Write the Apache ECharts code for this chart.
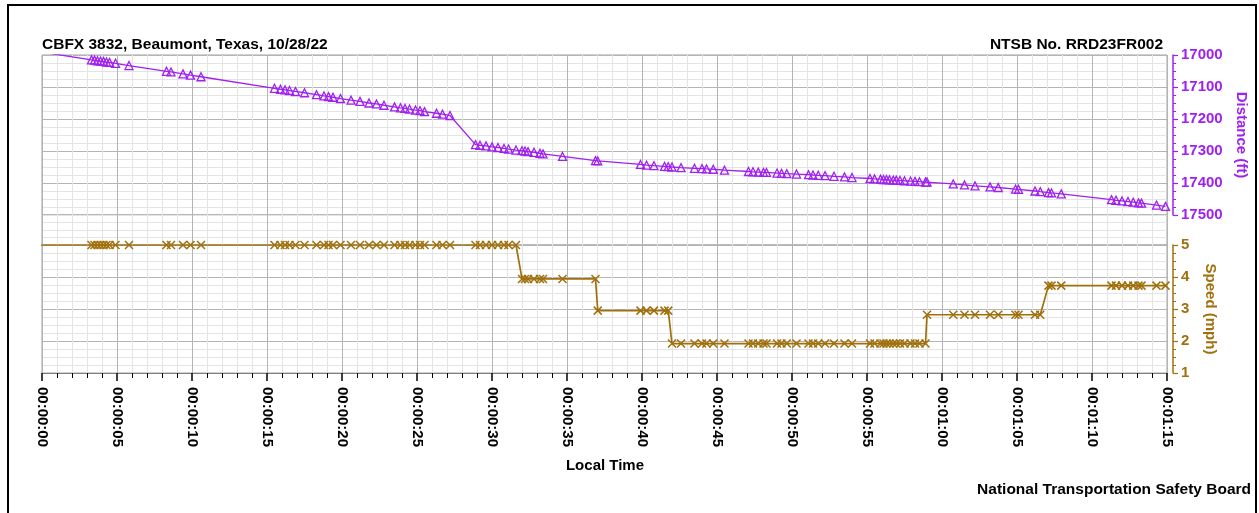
<!DOCTYPE html>
<html>
<head>
<meta charset="utf-8">
<script src="https://cdn.jsdelivr.net/npm/echarts@6.0.0/dist/echarts.min.js"></script>
<style>
html,body{margin:0;padding:0;background:#fff;}
#chart{width:1259px;height:513px;}
</style>
</head>
<body>
<div id="chart"></div>
<script>
// ---- data ----
const timeSec = [
  -1, 3.3, 3.5, 3.7, 3.9, 4.1, 4.3, 4.5, 4.9, 5.8,
  8.3, 8.6, 9.4, 9.9, 10.6,
  15.5, 15.9, 16.2, 16.5, 16.9, 17.5,
  18.3, 18.8, 19.1, 19.4, 19.9,
  20.6, 21.2, 21.8, 22.3, 22.8,
  23.5, 23.9, 24.2, 24.5, 24.9, 25.2, 25.5,
  26.3, 26.7, 27.2,
  28.9, 29.2, 29.6, 30.0, 30.4, 30.8, 31.1, 31.6,
  32.0, 32.2, 32.4, 32.8, 33.2, 33.4, 34.7, 36.9,
  37.05, 39.9, 40.3, 40.8, 41.5, 41.75,
  42.0, 42.6, 43.5, 44.0, 44.3, 44.75, 45.5,
  47.1, 47.4, 47.75, 48.1, 48.3,
  49.0, 49.3, 49.65, 50.3,
  51.1, 51.4, 51.75, 52.2, 52.8,
  53.5, 54.0,
  55.2, 55.5, 55.9, 56.1, 56.3, 56.5, 56.75, 56.95, 57.2, 57.5, 57.9, 58.2, 58.5, 58.9,
  59.0, 60.75, 61.5, 62.2, 63.2, 63.75, 64.9, 65.1, 66.2, 66.55,
  67.1, 67.3, 67.95, 71.3, 71.6, 72.0, 72.4, 72.75, 73.1, 73.3, 74.3, 74.9
];
const distanceFt = [
  16984, 17015, 17016, 17018, 17019, 17020, 17022, 17023, 17026, 17033,
  17051, 17053, 17059, 17063, 17068,
  17104, 17107, 17109, 17111, 17114, 17118,
  17124, 17128, 17130, 17132, 17136,
  17141, 17145, 17150, 17153, 17157,
  17162, 17165, 17167, 17169, 17172, 17174, 17177,
  17182, 17185, 17189,
  17280, 17282, 17284, 17287, 17289, 17292, 17294, 17297,
  17299, 17300, 17302, 17304, 17307, 17309, 17317, 17330,
  17331, 17342, 17344, 17346, 17348, 17349,
  17350, 17352, 17354, 17355, 17356, 17357, 17360,
  17364, 17365, 17366, 17367, 17367,
  17369, 17370, 17371, 17372,
  17374, 17375, 17376, 17377, 17379,
  17381, 17383,
  17386, 17387, 17388, 17389, 17389, 17390, 17391, 17391, 17392, 17393, 17394, 17395, 17396, 17397,
  17397, 17403, 17406, 17409, 17412, 17414, 17419, 17420, 17425, 17427,
  17430, 17431, 17434, 17452, 17454, 17456, 17458, 17460, 17462, 17463, 17469, 17473
];
const speedMph = [
  5.0, 5.0, 5.0, 5.0, 5.0, 5.0, 5.0, 5.0, 5.0, 5.0,
  5.0, 5.0, 5.0, 5.0, 5.0,
  5.0, 5.0, 5.0, 5.0, 5.0, 5.0,
  5.0, 5.0, 5.0, 5.0, 5.0,
  5.0, 5.0, 5.0, 5.0, 5.0,
  5.0, 5.0, 5.0, 5.0, 5.0, 5.0, 5.0,
  5.0, 5.0, 5.0,
  5.0, 5.0, 5.0, 5.0, 5.0, 5.0, 5.0, 5.0,
  3.94, 3.94, 3.94, 3.94, 3.94, 3.94, 3.94, 3.94,
  2.95, 2.95, 2.95, 2.95, 2.95, 2.95,
  1.92, 1.92, 1.92, 1.92, 1.92, 1.92, 1.92,
  1.92, 1.92, 1.92, 1.92, 1.92,
  1.92, 1.92, 1.92, 1.92,
  1.92, 1.92, 1.92, 1.92, 1.92,
  1.92, 1.92,
  1.92, 1.92, 1.92, 1.92, 1.92, 1.92, 1.92, 1.92, 1.92, 1.92, 1.92, 1.92, 1.92, 1.92,
  2.82, 2.82, 2.82, 2.82, 2.82, 2.82, 2.82, 2.82, 2.82, 2.82,
  3.73, 3.73, 3.73, 3.73, 3.73, 3.73, 3.73, 3.73, 3.73, 3.73, 3.73, 3.73
];
const timeTickLabels = ['00:00:00','00:00:05','00:00:10','00:00:15','00:00:20','00:00:25','00:00:30','00:00:35',
  '00:00:40','00:00:45','00:00:50','00:00:55','00:01:00','00:01:05','00:01:10','00:01:15'];
const distanceTickLabels = ['17000','17100','17200','17300','17400','17500'];
const speedTickLabels = ['1','2','3','4','5'];

// ---- styling ----
const FONT = '"Liberation Sans", Arial, sans-serif';
const PURPLE = '#A020F0';
const BROWN = '#A0700C';
const MAJOR = '#b4b4b4';
const MINOR = '#e4e4e4';

function xAxisFor(gridIndex, showAxis) {
  return {
    type: 'value', gridIndex: gridIndex, min: 0, max: 75, interval: 5,
    axisLine: { show: showAxis, onZero: false, lineStyle: { color: '#808080', width: 1 } },
    axisTick: { show: showAxis, length: 8, lineStyle: { color: '#000', width: 1.5 } },
    minorTick: { show: showAxis, splitNumber: 5, length: 5, lineStyle: { color: '#000', width: 1 } },
    axisLabel: {
      show: showAxis, rotate: -90, margin: 14, color: '#000', fontWeight: 'bold', fontSize: 15, fontFamily: FONT,
      formatter: function (v) { return timeTickLabels[Math.round(v / 5)]; }
    },
    splitLine: { show: true, lineStyle: { color: MAJOR, width: 1 } },
    minorSplitLine: { show: true, lineStyle: { color: MINOR, width: 1 } }
  };
}

const chart = echarts.init(document.getElementById('chart'), null, { renderer: 'canvas' });
const option = {
  animation: false,
  backgroundColor: '#fff',
  grid: [
    { left: 42, right: 92, top: 55, height: 160, show: true, borderColor: '#a0a0a0', borderWidth: 1, backgroundColor: 'transparent' },
    { left: 42, right: 92, top: 215, height: 30, show: true, borderColor: '#a0a0a0', borderWidth: 1, backgroundColor: 'transparent' },
    { left: 42, right: 92, top: 245, height: 128, show: true, borderColor: '#a0a0a0', borderWidth: 1, backgroundColor: 'transparent' }
  ],
  xAxis: [xAxisFor(0, false), xAxisFor(1, false), xAxisFor(2, true)],
  yAxis: [
    {
      type: 'value', gridIndex: 0, position: 'right', offset: 6, inverse: true,
      min: 17000, max: 17500, interval: 100,
      axisLine: { show: true, onZero: false, lineStyle: { color: PURPLE, width: 1.5 } },
      axisTick: { show: true, length: 5, lineStyle: { color: PURPLE, width: 1.2 } },
      minorTick: { show: true, splitNumber: 4, length: 3, lineStyle: { color: PURPLE, width: 1 } },
      axisLabel: {
        color: PURPLE, fontWeight: 'bold', fontSize: 15, fontFamily: FONT, margin: 8,
        formatter: function (v) { return distanceTickLabels[Math.round((v - 17000) / 100)]; }
      },
      splitLine: { show: true, lineStyle: { color: MAJOR } },
      minorSplitLine: { show: true, lineStyle: { color: MINOR } },
      name: 'Distance (ft)', nameLocation: 'middle', nameRotate: -90, nameGap: 60,
      nameTextStyle: { color: PURPLE, fontWeight: 'bold', fontSize: 15, fontFamily: FONT }
    },
    {
      type: 'value', gridIndex: 1, min: 0, max: 4, interval: 1,
      axisLine: { show: false, onZero: false }, axisTick: { show: false }, axisLabel: { show: false },
      splitLine: { show: true, lineStyle: { color: MINOR } }
    },
    {
      type: 'value', gridIndex: 2, position: 'right', offset: 6,
      min: 1, max: 5, interval: 1,
      axisLine: { show: true, onZero: false, lineStyle: { color: BROWN, width: 1.5 } },
      axisTick: { show: true, length: 5, lineStyle: { color: BROWN, width: 1.2 } },
      minorTick: { show: true, splitNumber: 4, length: 3, lineStyle: { color: BROWN, width: 1 } },
      axisLabel: {
        color: BROWN, fontWeight: 'bold', fontSize: 15, fontFamily: FONT, margin: 8,
        formatter: function (v) { return speedTickLabels[Math.round(v - 1)]; }
      },
      splitLine: { show: true, lineStyle: { color: MAJOR } },
      minorSplitLine: { show: true, lineStyle: { color: MINOR } },
      name: 'Speed (mph)', nameLocation: 'middle', nameRotate: -90, nameGap: 30,
      nameTextStyle: { color: BROWN, fontWeight: 'bold', fontSize: 15, fontFamily: FONT }
    }
  ],
  series: [
    {
      type: 'line', xAxisIndex: 0, yAxisIndex: 0, clip: true, silent: true,
      data: timeSec.map(function (t, i) { return [t, distanceFt[i]]; }),
      symbol: 'triangle', symbolSize: 8,
      lineStyle: { color: PURPLE, width: 1.3 },
      itemStyle: { color: 'rgba(0,0,0,0)', borderColor: PURPLE, borderWidth: 1.3 },
      emphasis: { disabled: true }
    },
    {
      type: 'line', xAxisIndex: 2, yAxisIndex: 2, clip: true, silent: true,
      data: timeSec.map(function (t, i) { return [t, speedMph[i]]; }),
      symbol: 'path://M0,0L10,10M10,0L0,10', symbolSize: 8,
      lineStyle: { color: BROWN, width: 1.7 },
      itemStyle: { color: 'rgba(0,0,0,0)', borderColor: BROWN, borderWidth: 1.5 },
      emphasis: { disabled: true }
    }
  ],
  graphic: [
    { type: 'rect', silent: true, shape: { x: 8, y: 5, width: 1248, height: 530 },
      style: { fill: 'none', stroke: '#000', lineWidth: 2 } },
    { type: 'text', silent: true, x: 42, y: 45,
      style: { text: 'CBFX 3832, Beaumont, Texas, 10/28/22', font: 'bold 15.5px ' + FONT, fill: '#000', textAlign: 'left', textVerticalAlign: 'middle' } },
    { type: 'text', silent: true, x: 1163, y: 45,
      style: { text: 'NTSB No. RRD23FR002', font: 'bold 15.5px ' + FONT, fill: '#000', textAlign: 'right', textVerticalAlign: 'middle' } },
    { type: 'text', silent: true, x: 605, y: 466,
      style: { text: 'Local Time', font: 'bold 15px ' + FONT, fill: '#000', textAlign: 'center', textVerticalAlign: 'middle' } },
    { type: 'text', silent: true, x: 1251, y: 490,
      style: { text: 'National Transportation Safety Board', font: 'bold 15.5px ' + FONT, fill: '#000', textAlign: 'right', textVerticalAlign: 'middle' } }
  ]
};
chart.setOption(option);
</script>
</body>
</html>
